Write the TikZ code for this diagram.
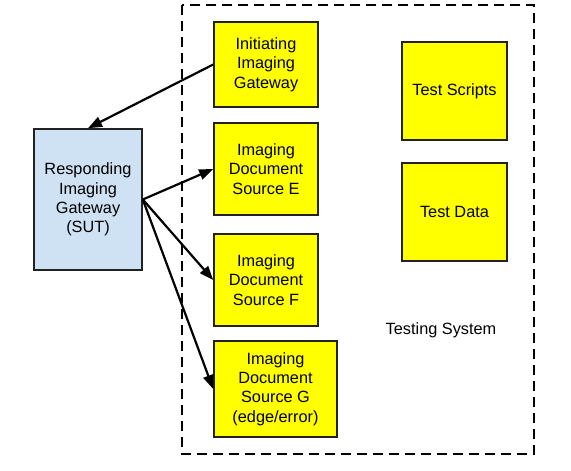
\documentclass[tikz,border=0pt]{standalone}
\usepackage{fontspec}
\setmainfont{Liberation Sans}
\usetikzlibrary{arrows.meta}
\definecolor{boxyellow}{HTML}{FFFF00}
\definecolor{boxblue}{HTML}{CFE2F3}
\definecolor{edgegray}{HTML}{222222}
\begin{document}
\begin{tikzpicture}[x=1pt,y=-1pt,
  box/.style={draw=edgegray, line width=1.6pt, fill=boxyellow, align=center, inner sep=0pt,
    font=\fontsize{16.3}{19.4}\selectfont},
  bluebox/.style={box, fill=boxblue},
  arr/.style={draw=black, line width=2.2pt, -{Triangle[length=14pt,width=10.5pt]}},
  frame/.style={draw=black, line width=2.6pt, dash pattern=on 10pt off 6pt}
]
\useasboundingbox (0,0) rectangle (571,471);
\draw[frame] (182,5) rectangle (534,454);
\node[box, minimum width=104, minimum height=85] (init) at (266,64.5) {Initiating\\Imaging\\Gateway};
\node[box, minimum width=104, minimum height=92] (srcE) at (266,169) {Imaging\\Document\\Source E};
\node[box, minimum width=104, minimum height=92] (srcF) at (266,280) {Imaging\\Document\\Source F};
\node[box, minimum width=123, minimum height=96] (srcG) at (275.5,389) {Imaging\\Document\\Source G\\(edge/error)};
\node[box, minimum width=105, minimum height=98] (scripts) at (454.5,91) {Test Scripts};
\node[box, minimum width=105, minimum height=98] (data) at (454.5,212) {Test Data};
\node[bluebox, minimum width=108, minimum height=141] (resp) at (88,199.5) {Responding\\Imaging\\Gateway\\(SUT)};
\node[font=\fontsize{16.3}{19.4}\selectfont, inner sep=0pt] (label) at (441,330) {Testing System};
\draw[arr] (init.west) -- (resp.north);
\draw[arr] (resp.east) -- (srcE.west);
\draw[arr] (resp.east) -- (srcF.west);
\draw[arr] (resp.east) -- (srcG.west);
\end{tikzpicture}
\end{document}
